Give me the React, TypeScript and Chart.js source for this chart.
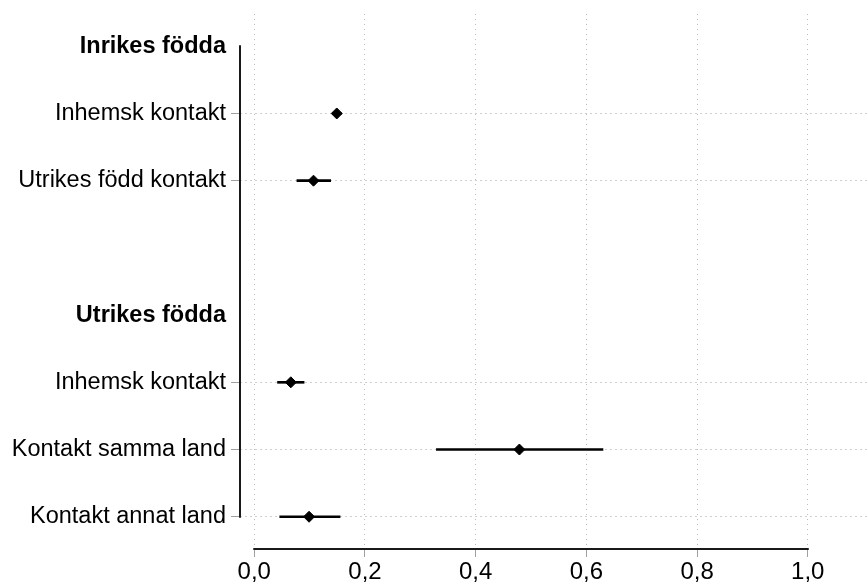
import React, { useEffect, useRef } from "react";
import { Chart, registerables } from "chart.js";

Chart.register(...registerables);

// Row labels (top to bottom); empty string = spacer row
const rowLabels = [
  "Inrikes födda",
  "Inhemsk kontakt",
  "Utrikes född kontakt",
  "",
  "Utrikes födda",
  "Inhemsk kontakt",
  "Kontakt samma land",
  "Kontakt annat land",
];
const headerRows = [0, 4];
const estimateRows = [1, 2, 5, 6, 7];
const estimates = [0.149, 0.107, 0.066, 0.479, 0.099];
const ciLow = [0.141, 0.077, 0.042, 0.329, 0.046];
const ciHigh = [0.157, 0.138, 0.09, 0.63, 0.155];
const xTickValues = [0, 0.2, 0.4, 0.6, 0.8, 1.0];

const FONT = "'Liberation Sans', Arial, sans-serif";

const axisLinesPlugin = {
  id: "axisLines",
  afterDatasetsDraw(chart: any) {
    const { ctx, chartArea, scales } = chart;
    const x = scales.x;
    const y = scales.y;
    ctx.save();
    ctx.strokeStyle = "#1a1a1a";
    ctx.lineWidth = 2;
    ctx.beginPath();
    ctx.moveTo(chartArea.left, y.getPixelForValue(0) - 1);
    ctx.lineTo(chartArea.left, y.getPixelForValue(rowLabels.length - 1) + 1);
    ctx.stroke();
    ctx.beginPath();
    ctx.moveTo(x.getPixelForValue(xTickValues[0]) - 1, chartArea.bottom);
    ctx.lineTo(x.getPixelForValue(xTickValues[xTickValues.length - 1]) + 1, chartArea.bottom);
    ctx.stroke();
    ctx.restore();
  },
};

export default function App() {
  const ref = useRef<HTMLCanvasElement | null>(null);

  useEffect(() => {
    if (!ref.current) return;
    const points = estimateRows.map((r, i) => ({ x: estimates[i], y: r }));
    const bars = estimateRows.map((r, i) => ({ x: [ciLow[i], ciHigh[i]], y: r }));
    const isDataRow = (v: number) => estimateRows.includes(v);

    const chart = new Chart(ref.current, {
      type: "scatter",
      data: {
        datasets: [
          {
            type: "scatter",
            data: points as any,
            pointStyle: "rectRot",
            pointRadius: 5.5,
            borderWidth: 1,
            backgroundColor: "#000",
            borderColor: "#000",
            order: 0,
          } as any,
          {
            type: "bar",
            indexAxis: "y",
            data: bars as any,
            barThickness: 2,
            backgroundColor: "#000",
            borderWidth: 0,
            order: 1,
          } as any,
        ],
      },
      options: {
        animation: false,
        responsive: false,
        maintainAspectRatio: false,
        layout: { autoPadding: false, padding: { top: 14, right: 0, left: 0, bottom: 0 } },
        plugins: {
          legend: { display: false },
          tooltip: { enabled: false },
        },
        scales: {
          x: {
            type: "linear",
            offset: false,
            min: -0.0258,
            max: 1.107,
            afterBuildTicks: (scale: any) => {
              scale.ticks = xTickValues.map((v) => ({ value: v }));
            },
            afterFit: (scale: any) => {
              scale.height = 34;
              scale.paddingLeft = 0;
              scale.paddingRight = 0;
            },
            border: { display: false, dash: [1, 4] },
            grid: {
              offset: false,
              color: "#bdbdbd",
              lineWidth: 1,
              tickLength: 8,
              tickColor: "#a0a0a0",
              tickWidth: 1,
              tickBorderDash: [],
            },
            ticks: {
              padding: 1,
              color: "#000",
              font: { family: FONT, size: 24 },
              callback: (v: any) => Number(v).toFixed(1).replace(".", ","),
              maxRotation: 0,
              autoSkip: false,
            },
          },
          y: {
            type: "linear",
            offset: false,
            reverse: true,
            min: -0.48,
            max: 7.48,
            afterBuildTicks: (scale: any) => {
              scale.ticks = rowLabels.map((_, i) => ({ value: i }));
            },
            afterFit: (scale: any) => {
              scale.width = 240;
              scale.paddingTop = 0;
              scale.paddingBottom = 0;
            },
            border: { display: false, dash: [2, 3] },
            grid: {
              offset: false,
              color: (ctx: any) => (ctx.tick && isDataRow(ctx.tick.value) ? "#cfcfcf" : "rgba(0,0,0,0)"),
              lineWidth: 1,
              tickLength: 9,
              tickColor: (ctx: any) => (ctx.tick && isDataRow(ctx.tick.value) ? "#a0a0a0" : "rgba(0,0,0,0)"),
              tickWidth: 1,
              tickBorderDash: [],
            },
            ticks: {
              padding: 5,
              color: "#000",
              autoSkip: false,
              font: (ctx: any) => ({
                family: FONT,
                size: 23.5,
                weight: ctx.tick && headerRows.includes(ctx.tick.value) ? "bold" : "normal",
              }),
              callback: (v: any) => rowLabels[Number(v)] ?? "",
            },
          },
        },
      },
      plugins: [axisLinesPlugin],
    });
    return () => chart.destroy();
  }, []);

  return (
    <div style={{ position: "fixed", left: 0, top: 0, width: 867, height: 583, background: "#fff" }}>
      <canvas ref={ref} width={867} height={583} style={{ display: "block" }} />
    </div>
  );
}
